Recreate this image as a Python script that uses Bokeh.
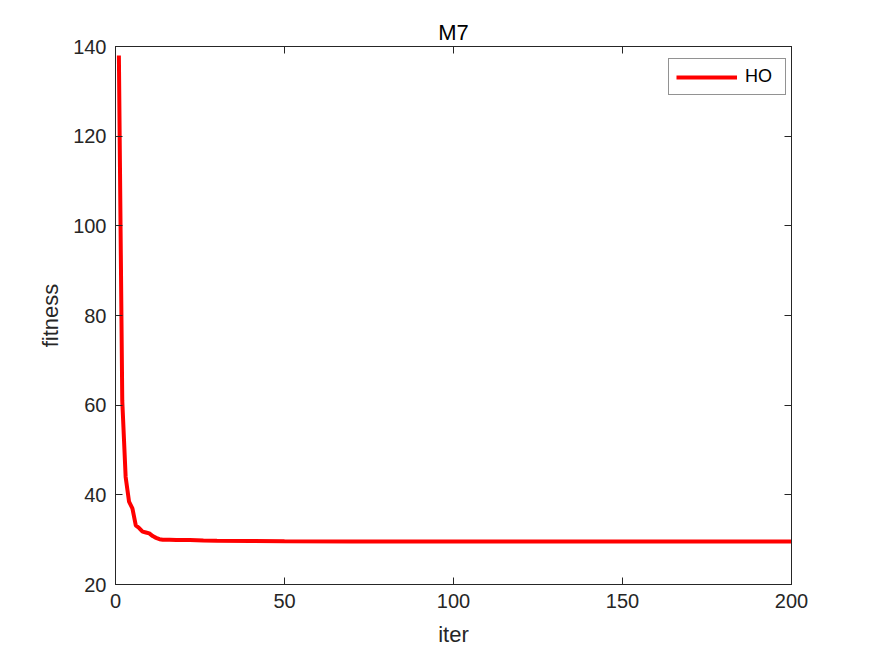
from bokeh.plotting import figure
from bokeh.models import LinearAxis, Range1d, FixedTicker, Legend, LegendItem, CustomJSTickFormatter
from bokeh.embed import file_html
from bokeh.resources import INLINE

# Best-so-far fitness: iterations where the value changes
iters = [1, 2, 3, 4, 5, 6, 7, 8, 9, 10, 11, 12, 13, 14, 16, 18, 22, 26, 30, 40, 50, 70, 100, 150, 200]
fitness = [138.0, 61.0, 44.0, 38.5, 37.0, 33.2, 32.6, 31.8, 31.6, 31.4, 30.8, 30.4, 30.1, 30.0, 30.0, 29.95, 29.9, 29.8, 29.75, 29.7, 29.65, 29.6, 29.6, 29.6, 29.6]
series_name = "HO"
title_text = "M7"
x_ticks = [0, 50, 100, 150, 200]
y_ticks = [20, 40, 60, 80, 100, 120, 140]

FONT = "Liberation Sans"
DARK = "#262626"

p = figure(frame_width=676, frame_height=538, output_backend="svg", toolbar_location=None,
           x_range=Range1d(0, 200), y_range=Range1d(20, 140),
           min_border_left=115, min_border_right=79, min_border_top=46, min_border_bottom=66)

p.title.text = title_text
p.title.align = "center"
p.title.text_font = FONT
p.title.text_font_size = "22px"
p.title.text_font_style = "normal"
p.title.text_color = "black"
p.title.offset = 0
p.title.standoff = 3

p.xgrid.visible = False
p.ygrid.visible = False
p.outline_line_color = DARK
p.outline_line_width = 1

def style_axis(ax, ticks, show_labels=True):
    ax.ticker = FixedTicker(ticks=ticks)
    ax.major_tick_in = 7
    ax.major_tick_out = 0
    ax.minor_tick_line_color = None
    ax.axis_line_color = DARK
    ax.major_tick_line_color = DARK
    ax.major_label_text_font = FONT
    ax.major_label_text_color = DARK
    ax.major_label_text_font_size = "20px"
    if show_labels:
        ax.major_label_standoff = 9
    else:
        ax.formatter = CustomJSTickFormatter(code="return '';")
        ax.major_label_standoff = 0

style_axis(p.xaxis[0], x_ticks)
style_axis(p.yaxis[0], y_ticks)
p.xaxis[0].axis_label = "iter"
p.yaxis[0].axis_label = "fitness"
for ax in (p.xaxis[0], p.yaxis[0]):
    ax.axis_label_text_font = FONT
    ax.axis_label_text_font_size = "22px"
    ax.axis_label_text_font_style = "normal"
    ax.axis_label_text_color = DARK
p.xaxis[0].axis_label_standoff = 11
p.yaxis[0].axis_label_standoff = 7

top_ax = LinearAxis()
style_axis(top_ax, x_ticks, show_labels=False)
p.add_layout(top_ax, "above")
right_ax = LinearAxis()
style_axis(right_ax, y_ticks, show_labels=False)
p.add_layout(right_ax, "right")

r = p.line(iters, fitness, line_color="#ff0000", line_width=4)

legend = Legend(items=[LegendItem(label=series_name, renderers=[r])], location=(553, 489))
legend.label_text_font = FONT
legend.label_text_font_size = "18px"
legend.label_text_color = "black"
legend.glyph_width = 61
legend.glyph_height = 16
legend.label_height = 16
legend.label_width = 33
legend.border_line_color = DARK
legend.border_line_width = 1
legend.margin = 0
legend.padding = 7
legend.spacing = 0
legend.label_standoff = 8
p.add_layout(legend)

open("out.html", "w").write(file_html(p, INLINE))
